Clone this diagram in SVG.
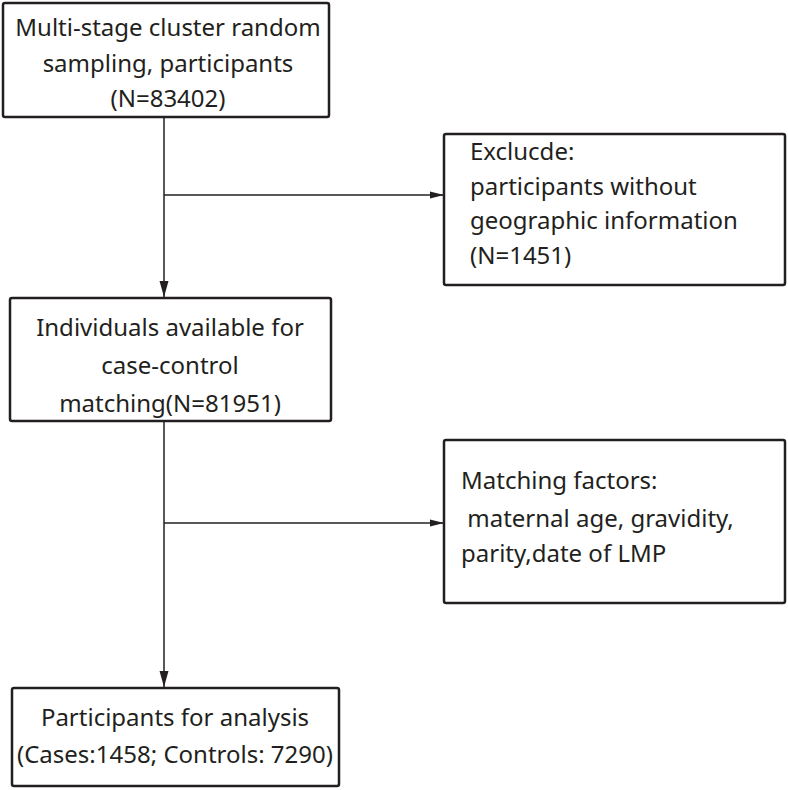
<svg xmlns="http://www.w3.org/2000/svg" width="788" height="790" viewBox="0 0 788 790">
<style>
.box{fill:#fff;stroke:#231f20;stroke-width:2.5}
.t{font-family:"Noto Sans","Open Sans",sans-serif;font-size:24px;fill:#231f20}
.c{text-anchor:middle}
.ln{stroke:#231f20;stroke-width:1.5;fill:none}
</style>
<defs>
<marker id="ah" viewBox="0 0 14 10" refX="14" refY="5" markerWidth="14" markerHeight="10" markerUnits="userSpaceOnUse" orient="auto">
<path d="M0,1.5 L14,5 L0,8.5 Z" fill="#231f20"/>
</marker>
<marker id="av" viewBox="0 0 16 10" refX="16" refY="5" markerWidth="16" markerHeight="10" markerUnits="userSpaceOnUse" orient="auto">
<path d="M0,0.5 L16,5 L0,9.5 Z" fill="#231f20"/>
</marker>
</defs>
<g id="connectors">
<line class="ln" x1="164" y1="117" x2="164" y2="297" marker-end="url(#av)"/>
<line class="ln" x1="164" y1="195" x2="444" y2="195" marker-end="url(#ah)"/>
<line class="ln" x1="164" y1="421" x2="164" y2="687" marker-end="url(#av)"/>
<line class="ln" x1="164" y1="523" x2="444" y2="523" marker-end="url(#ah)"/>
</g>
<g id="n1">
<rect class="box" x="3" y="3" width="326" height="114" rx="2"/>
<text class="t c" x="168" y="36">Multi-stage cluster random</text>
<text class="t c" x="168" y="72">sampling, participants</text>
<text class="t c" x="168" y="107">(N=83402)</text>
</g>
<g id="n2">
<rect class="box" x="444" y="134" width="341" height="151" rx="2"/>
<text class="t" x="470" y="160">Exclucde:</text>
<text class="t" x="470" y="195">participants without</text>
<text class="t" x="470" y="229">geographic information</text>
<text class="t" x="470" y="264">(N=1451)</text>
</g>
<g id="n3">
<rect class="box" x="10" y="298" width="321" height="123" rx="2"/>
<text class="t c" x="170" y="336">Individuals available for</text>
<text class="t c" x="170" y="374">case-control</text>
<text class="t c" x="170" y="412">matching(N=81951)</text>
</g>
<g id="n4">
<rect class="box" x="444" y="440" width="341" height="163" rx="2"/>
<text class="t" x="461" y="489">Matching factors:</text>
<text class="t" x="461" y="527" xml:space="preserve"> maternal age, gravidity,</text>
<text class="t" x="461" y="562">parity,date of LMP</text>
</g>
<g id="n5">
<rect class="box" x="12" y="688" width="327" height="98" rx="2"/>
<text class="t c" x="175" y="726">Participants for analysis</text>
<text class="t c" x="175" y="763">(Cases:1458; Controls: 7290)</text>
</g>
</svg>
